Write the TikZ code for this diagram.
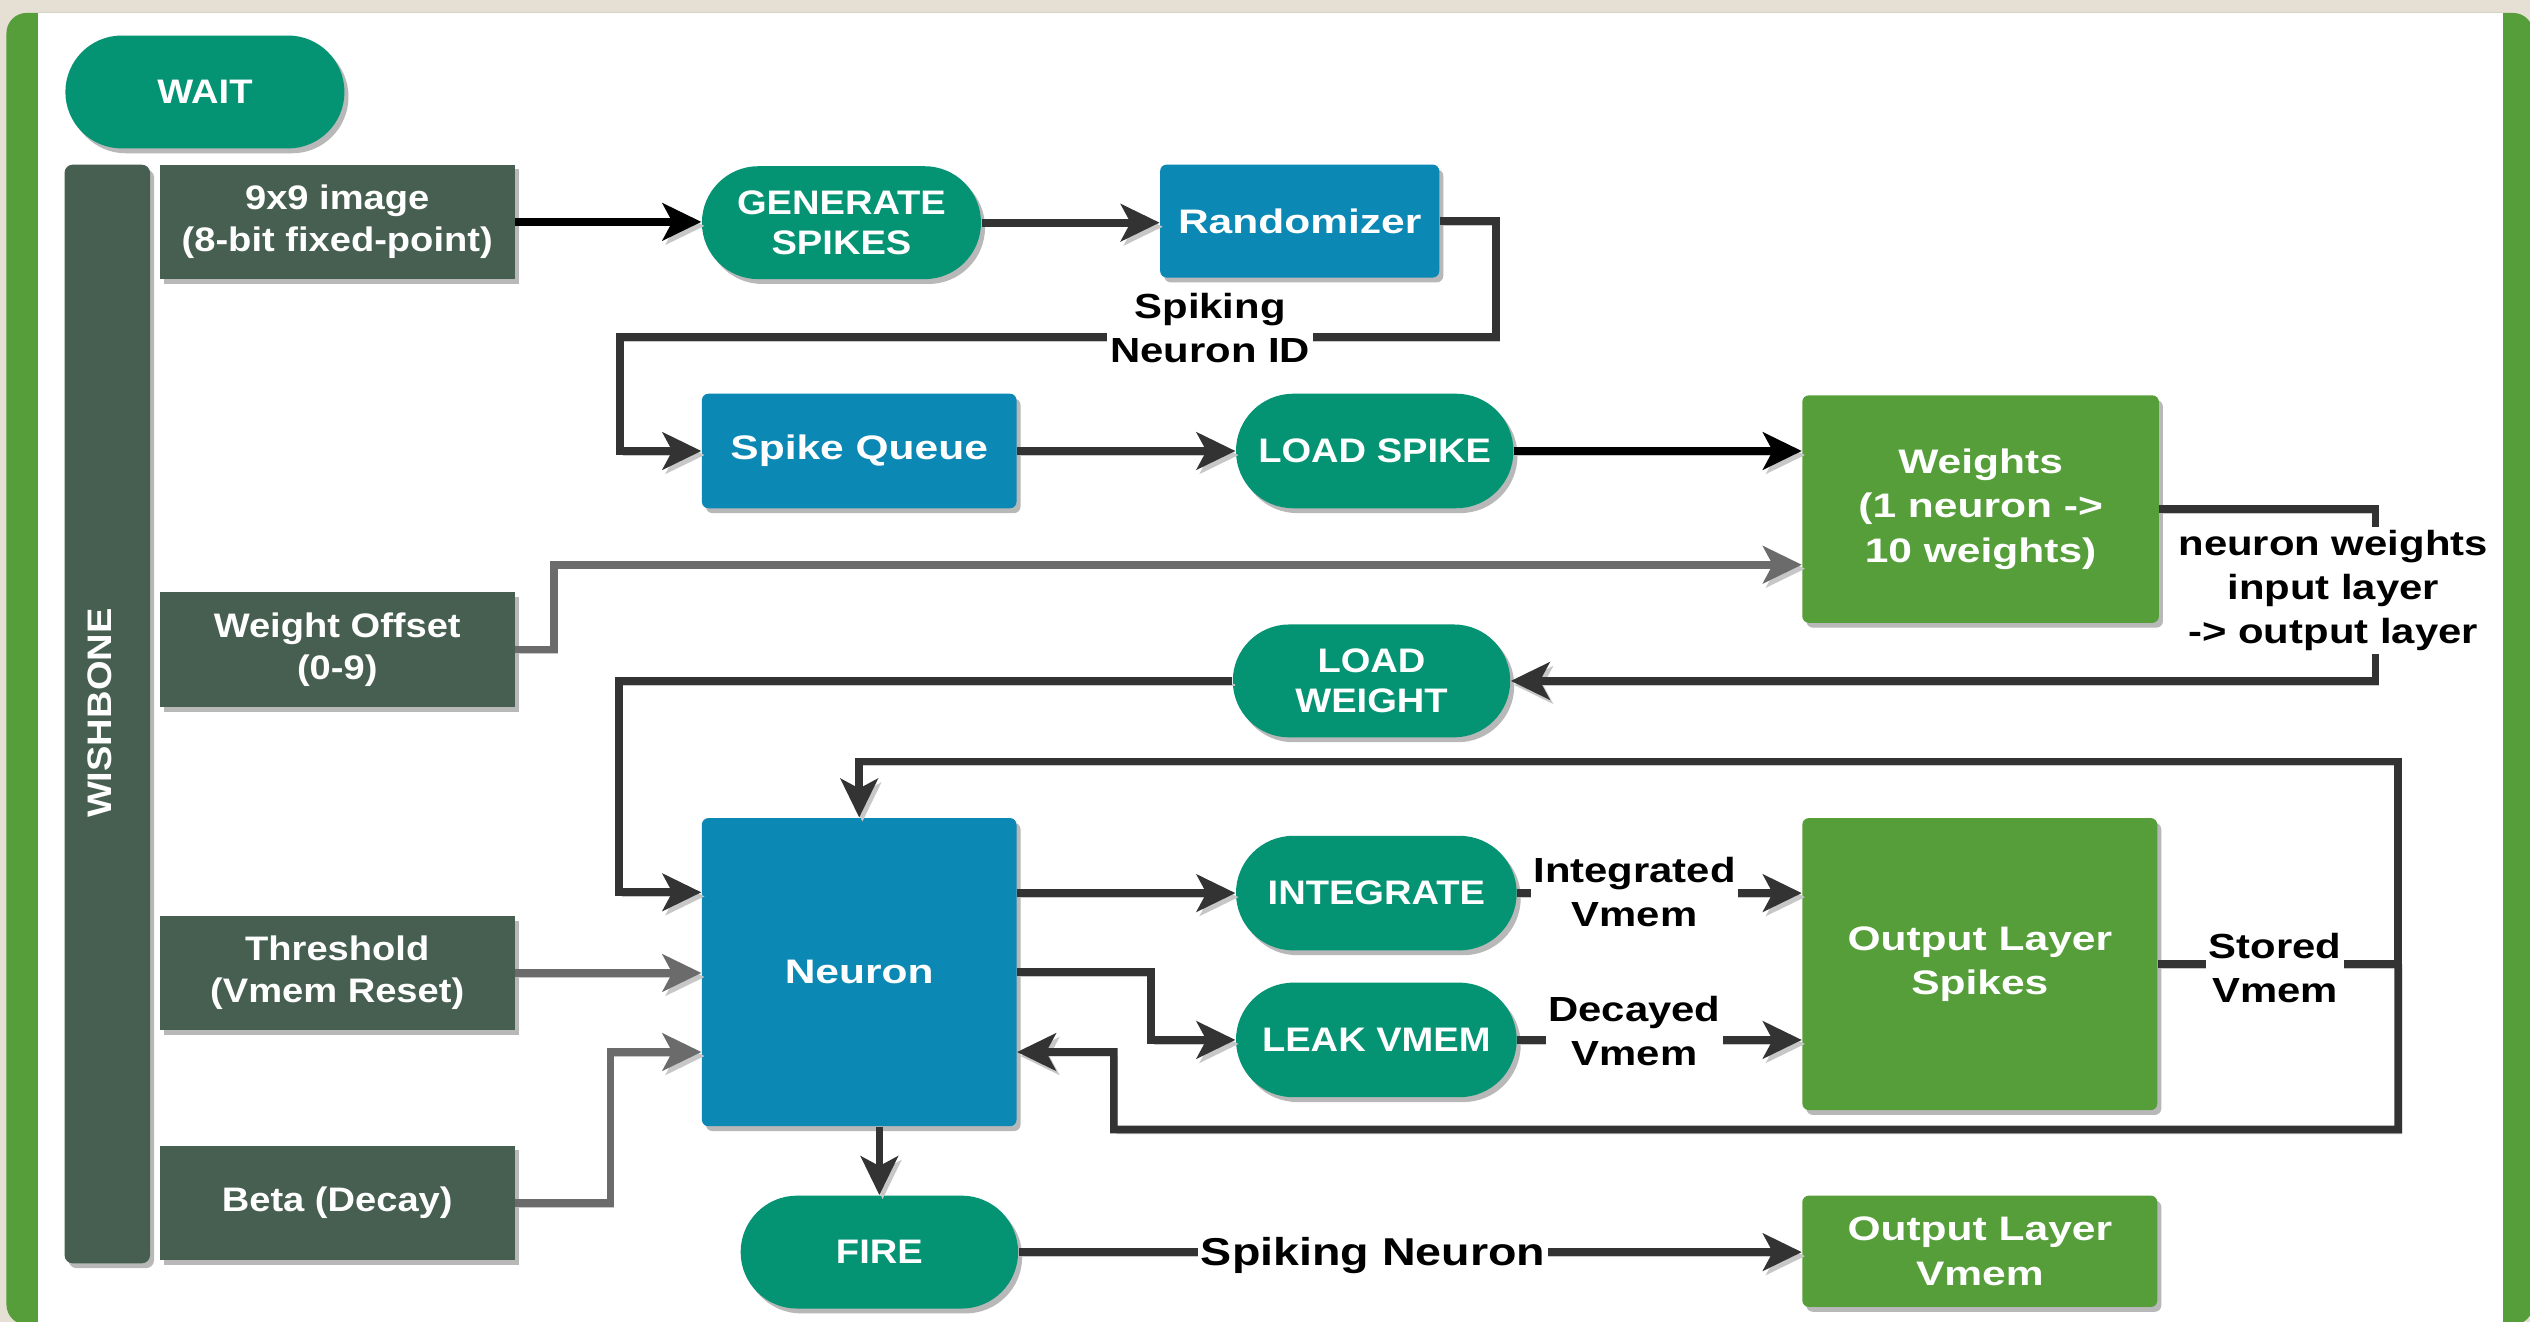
\documentclass[tikz,border=0pt]{standalone}
\usepackage{fontspec}
\newfontfamily\boxface[FakeStretch=1.25]{Liberation Sans}
\newfontfamily\ovalface[FakeStretch=1.12]{Liberation Sans}
\newfontfamily\lblface[FakeStretch=1.2]{Liberation Sans}
\usetikzlibrary{arrows.meta,shapes.misc,shadows}
\definecolor{paper}{HTML}{E6DFD4}
\definecolor{frame}{HTML}{559E3A}
\definecolor{statecol}{HTML}{059473}
\definecolor{regcol}{HTML}{465F50}
\definecolor{unitcol}{HTML}{0B88B3}
\definecolor{memcol}{HTML}{559E3A}
\definecolor{wirecol}{HTML}{333333}
\definecolor{cfgcol}{HTML}{6B6B6B}
\begin{document}
\begin{tikzpicture}[x=0.02cm,y=-0.02cm,
    lifted/.style={drop shadow={shadow xshift=0.05cm,shadow yshift=-0.06cm,fill=black!28,opacity=1}},
    oval/.style={rounded rectangle,fill=statecol,text=white,lifted,minimum width=3.46cm,minimum height=1.4cm,
      align=center,inner sep=0pt,font=\ovalface\bfseries\fontsize{12}{14}\selectfont},
    reg/.style={rectangle,fill=regcol,text=white,lifted,minimum width=4.4cm,minimum height=1.42cm,
      align=center,inner sep=0pt,font=\ovalface\bfseries\fontsize{12}{14.8}\selectfont},
    unit/.style={rectangle,rounded corners=0.08cm,fill=unitcol,text=white,lifted,
      align=center,inner sep=0pt,font=\boxface\bfseries\fontsize{12}{14}\selectfont},
    mem/.style={unit,fill=memcol,font=\boxface\bfseries\fontsize{12}{15.8}\selectfont},
    lbl/.style={fill=white,inner sep=1pt,align=center,font=\lblface\bfseries\fontsize{12.3}{15.6}\selectfont},
    wire/.style={line width=0.095cm,draw=wirecol,-{Stealth[length=0.48cm,width=0.46cm,inset=0.12cm]},
      preaction={draw=black!22,transform canvas={xshift=0.04cm,yshift=-0.05cm}}}]
  \useasboundingbox (0,0) rectangle (1568,819);
  \fill[paper] (0,0) rectangle (1568,819);
  \fill[frame,rounded corners=0.25cm] (4,8) rectangle (1570,821);
  \fill[white] (23.5,8) rectangle (1551,819.5);

  \node[oval] (wait) at (127,57) {WAIT};
  \node[rectangle,rounded corners=0.1cm,fill=regcol,lifted,minimum width=1.06cm,minimum height=13.62cm] (bus) at (66.5,442.5) {};
  \node[text=white,rotate=90,font=\ovalface\bfseries\fontsize{12}{14}\selectfont] (bustag) at (62,442) {WISHBONE};
  \node[reg] (img) at (209,137.5) {9x9 image\\(8-bit fixed-point)};
  \node[reg] (woff) at (209,402.5) {Weight Offset\\(0-9)};
  \node[reg] (thr) at (209,603) {Threshold\\(Vmem Reset)};
  \node[reg] (beta) at (209,745.5) {Beta (Decay)};
  \node[oval] (gen) at (521.5,138) {GENERATE\\SPIKES};
  \node[unit,minimum width=3.46cm,minimum height=1.4cm] (rand) at (805.5,137) {Randomizer};
  \node[unit,minimum width=3.9cm,minimum height=1.42cm] (queue) at (532.5,279.5) {Spike Queue};
  \node[oval,minimum width=3.44cm,minimum height=1.42cm] (lspike) at (852,279.5) {LOAD SPIKE};
  \node[mem,minimum width=4.42cm,minimum height=2.82cm] (wts) at (1227.5,315.5) {Weights\\(1 neuron ->\\10 weights)};
  \node[oval,minimum width=3.44cm] (lweight) at (850,422) {LOAD\\WEIGHT};
  \node[unit,minimum width=3.9cm,minimum height=3.82cm] (neuron) at (532.5,602.5) {Neuron};
  \node[oval,minimum width=3.48cm,minimum height=1.42cm] (integ) at (853,553.5) {INTEGRATE};
  \node[oval,minimum width=3.48cm,minimum height=1.42cm] (leak) at (853,644.5) {LEAK VMEM};
  \node[mem,minimum width=4.4cm,minimum height=3.62cm] (ols) at (1227,597.5) {Output Layer\\Spikes};
  \node[oval,minimum width=3.44cm] (fire) at (545,776) {FIRE};
  \node[mem,minimum width=4.4cm,minimum height=1.38cm] (olv) at (1227,775.5) {Output Layer\\Vmem};

  \draw[wire,draw=black] (img.east) -- (img.east -| gen.west);
  \draw[wire] (gen.east) -- (gen.east -| rand.west);
  \draw[wire] (rand.east) -- ++(35,0) -- ++(0,72) -- ++(-543,0) |- (queue.west);
  \draw[wire] (queue.east) -- (lspike.west);
  \draw[wire,draw=black] (lspike.east) -- (lspike.east -| wts.west);
  \draw[wire,draw=cfgcol] (woff.east) -- ++(24,0) |- ([yshift=-0.69cm]wts.west);
  \draw[wire] (wts.east) -- ++(134,0) |- (lweight.east);
  \draw[wire] (lweight.west) -- ++(-380,0) |- ([yshift=0.99cm]neuron.west);
  \draw[wire,draw=cfgcol] (thr.east) -- (thr.east -| neuron.west);
  \draw[wire,draw=cfgcol] (beta.east) -- ++(59,0) |- ([yshift=-0.99cm]neuron.west);
  \draw[wire] (neuron.east |- integ.west) -- (integ.west);
  \draw[wire] (neuron.east) -- ++(83,0) |- (leak.west);
  \draw[wire] (integ.east) -- (integ.east -| ols.west);
  \draw[wire] (leak.east) -- (leak.east -| ols.west);
  \draw[wire] (ols.east) -- ++(149,0) -- ++(0,-125.5) -| (neuron.north);
  \draw[wire] (ols.east) ++(149,0) -- ++(0,102.5) -| ++(-796,-48) -- ([yshift=-0.99cm]neuron.east);
  \draw[wire] (neuron.south -| fire.north) -- (fire.north);
  \draw[wire] (fire.east) -- (fire.east -| olv.west);

  \node[lbl] (spikeid) at (750,203.5) {Spiking\\Neuron ID};
  \node[lbl] (wtsnote) at (1446,366) {neuron weights\\input layer\\-> output layer};
  \node[lbl] (integnote) at (1013,553) {Integrated\\Vmem};
  \node[lbl] (leaknote) at (1013,639) {Decayed\\Vmem};
  \node[lbl] (storenote) at (1410,600) {Stored\\Vmem};
  \node[lbl,font=\lblface\bfseries\fontsize{13.7}{16}\selectfont] (firenote) at (851,778) {Spiking Neuron};
\end{tikzpicture}
\end{document}
